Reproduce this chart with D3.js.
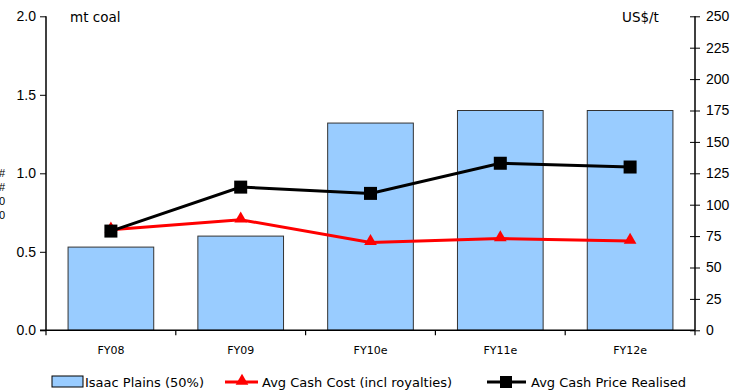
<!DOCTYPE html>
<html><head><meta charset="utf-8">
<script src="https://cdn.jsdelivr.net/npm/d3@7"></script>
<style>body{margin:0;background:#fff}svg{display:block}</style>
</head><body>
<script>
const categories = ["FY08","FY09","FY10e","FY11e","FY12e"];
const production = [0.53, 0.60, 1.32, 1.40, 1.40];
const cashCost = [80, 88, 70, 73, 71];
const cashPrice = [79, 114, 109, 133, 130];
const leftTicks = [0, 0.5, 1.0, 1.5, 2.0];
const rightTicks = [0,25,50,75,100,125,150,175,200,225,250];
const seriesNames = ["Isaac Plains (50%)","Avg Cash Cost (incl royalties)","Avg Cash Price Realised"];

const W=752,H=391;
const svg=d3.select("body").append("svg").attr("width",W).attr("height",H);
const L=46,R=695,T=16.3,B=330.3;
const x=d3.scaleBand().domain(categories).range([L,R]).paddingInner(0.34).paddingOuter(0.17);
const yL=d3.scaleLinear().domain([0,2]).range([B,T]);
const yR=d3.scaleLinear().domain([0,250]).range([B,T]);
const numFont="'Liberation Sans', Arial, sans-serif";
const txtFont="'DejaVu Sans', Verdana, sans-serif";

// bars
svg.selectAll("rect.bar").data(categories).enter().append("rect")
 .attr("x",d=>x(d)).attr("width",x.bandwidth())
 .attr("y",(d,i)=>yL(production[i])).attr("height",(d,i)=>B-yL(production[i]))
 .attr("fill","#99ccff").attr("stroke","#333").attr("stroke-width",1);

// left axis
const gl=svg.append("g").attr("transform",`translate(${L},0)`)
 .call(d3.axisLeft(yL).tickValues(leftTicks).tickFormat(d3.format(".1f")).tickSize(6).tickPadding(4));
gl.select(".domain").attr("stroke","#000").attr("stroke-width",1.5).attr("d",`M0,${T}V${B}`);
gl.selectAll("text").attr("font-family",numFont).attr("font-size",14).attr("fill","#000");

// right axis
const gr=svg.append("g").attr("transform",`translate(${R},0)`)
 .call(d3.axisRight(yR).tickValues(rightTicks).tickSize(5).tickPadding(6));
gr.select(".domain").attr("stroke","#000").attr("stroke-width",1.5).attr("d",`M0,${T}V${B}`);
gr.selectAll(".tick line").attr("x1",-5).attr("x2",5);
gr.selectAll("text").attr("font-family",numFont).attr("font-size",14).attr("fill","#000");

// x axis
const gx=svg.append("g").attr("transform",`translate(0,${B})`);
gx.append("line").attr("x1",L-6).attr("x2",R).attr("stroke","#000").attr("stroke-width",1.5);
d3.range(categories.length+1).forEach(i=>{
  const xx=L+i*(R-L)/categories.length;
  gx.append("line").attr("x1",xx).attr("x2",xx).attr("y1",0).attr("y2",5).attr("stroke","#000").attr("stroke-width",1.2);
});
gx.selectAll("text").data(categories).enter().append("text")
 .attr("x",d=>x(d)+x.bandwidth()/2).attr("y",24).attr("text-anchor","middle")
 .attr("font-family",txtFont).attr("font-size",11).attr("fill","#000").text(d=>d);

// lines
const cx=(d)=>x(d)+x.bandwidth()/2;
const line=d3.line();
svg.append("path").attr("d",line(categories.map((c,i)=>[cx(c),yR(cashCost[i])])))
 .attr("fill","none").attr("stroke","#ff0000").attr("stroke-width",3);
svg.selectAll("path.tri").data(categories).enter().append("path")
 .attr("d",d3.symbol().type(d3.symbolTriangle).size(70))
 .attr("transform",(d,i)=>`translate(${cx(d)},${yR(cashCost[i])-1})`).attr("fill","#ff0000");
svg.append("path").attr("d",line(categories.map((c,i)=>[cx(c),yR(cashPrice[i])])))
 .attr("fill","none").attr("stroke","#000").attr("stroke-width",3);
svg.selectAll("rect.sq").data(categories).enter().append("rect")
 .attr("x",d=>cx(d)-6.5).attr("y",(d,i)=>yR(cashPrice[i])-6.5).attr("width",13).attr("height",13).attr("fill","#000");

// axis titles
svg.append("text").attr("x",70).attr("y",22).attr("font-family",txtFont).attr("font-size",13.5).text("mt coal");
svg.append("text").attr("x",622).attr("y",22).attr("font-family",txtFont).attr("font-size",13.5).text("US$/t");

// clipped left glyphs
["#","#","0","0"].forEach((g,i)=>{
  svg.append("text").attr("x",5).attr("y",177+i*14).attr("text-anchor","end")
   .attr("font-family",numFont).attr("font-size",11).text(g);
});

// legend
const ly=382;
const lg=svg.append("g");
lg.append("rect").attr("x",52).attr("y",ly-6).attr("width",31).attr("height",11).attr("fill","#99ccff").attr("stroke","#000").attr("stroke-width",1);
lg.append("text").attr("x",85).attr("y",ly+5).attr("font-family",txtFont).attr("font-size",13).text(seriesNames[0]);
lg.append("line").attr("x1",225).attr("x2",258).attr("y1",ly).attr("y2",ly).attr("stroke","#ff0000").attr("stroke-width",3);
lg.append("path").attr("d",d3.symbol().type(d3.symbolTriangle).size(70)).attr("transform",`translate(242,${ly-1})`).attr("fill","#ff0000");
lg.append("text").attr("x",262).attr("y",ly+5).attr("font-family",txtFont).attr("font-size",13).text(seriesNames[1]);
lg.append("line").attr("x1",487).attr("x2",526).attr("y1",ly).attr("y2",ly).attr("stroke","#000").attr("stroke-width",3);
lg.append("rect").attr("x",500).attr("y",ly-6).attr("width",12).attr("height",12).attr("fill","#000");
lg.append("text").attr("x",531).attr("y",ly+5).attr("font-family",txtFont).attr("font-size",13).text(seriesNames[2]);
</script>
</body></html>
